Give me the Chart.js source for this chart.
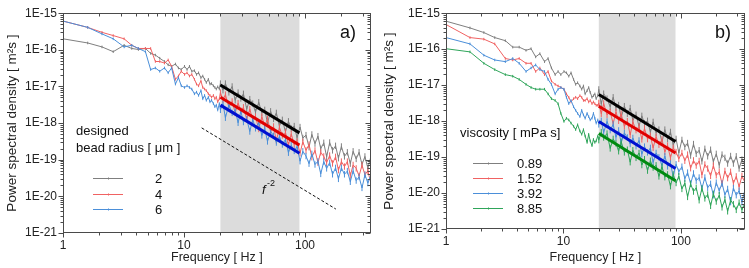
<!DOCTYPE html>
<html><head><meta charset="utf-8">
<script src="https://cdn.jsdelivr.net/npm/chart.js@4.4.0/dist/chart.umd.min.js"></script>
<style>
html,body{margin:0;padding:0;background:#fff;}
#wrap{position:relative;width:749px;height:268px;overflow:hidden;}
canvas{position:absolute;top:0;}
#ca{left:0;} #cb{left:375px;}
</style></head><body>
<div id="wrap"><canvas id="ca" width="375" height="268"></canvas><canvas id="cb" width="374" height="268"></canvas></div>
<script>
// ---------------- data ----------------
const freqHz = [1, 1.6, 2.1, 2.6, 3.2, 3.7, 4.2, 4.8, 5.3, 5.8, 6.3, 6.9, 7.4, 7.9, 8.5, 9.0, 9.5, 10.1, 10.6, 11.1, 11.6, 12.2, 12.7, 13.2, 13.8, 14.3, 14.8, 15.3, 15.9, 16.4, 16.9, 17.5, 18.0, 18.5, 19.0, 19.6,
  20, 21, 22, 23.5, 25, 26.5, 28, 29.5, 31, 33, 35, 37, 39, 41.5, 44, 46.5, 49, 52, 55, 58, 61.5, 65, 69, 73, 77, 81.5, 86, 91, 96, 102, 108, 114, 121, 128, 135, 143, 151, 160, 169, 179, 189, 200, 212, 224, 237, 250, 265, 280, 296, 313, 331, 350];

// panel a) designed bead radius [um]
const radiusLabels = ['2', '4', '6'];
const psdA_2um = [2.0e-16, 1.54e-16, 1.2e-16, 8.9e-17, 1.33e-16, 1.09e-16, 1.02e-16, 1.09e-16, 8.0e-17, 7.2e-17, 5.9e-17, 4.8e-17, 3.9e-17, 3.55e-17, 4.1e-17, 3.2e-17, 2.9e-17, 3.55e-17, 2.9e-17, 3.55e-17, 2.6e-17, 2.7e-17, 2.13e-17, 2.36e-17, 1.74e-17, 1.93e-17, 1.57e-17, 1.28e-17, 1.57e-17, 1.16e-17, 1.2e-17, 1.04e-17, 9.4e-18, 8.5e-18, 9.8e-18, 8.5e-18,
  1.2e-17, 7.9e-18, 1.2e-17, 6.9e-18, 1.0e-17, 4.2e-18, 6.8e-18, 4.7e-18, 6.3e-18, 2.4e-18, 4.5e-18, 3.4e-18, 2.0e-18, 3.7e-18, 1.9e-18, 2.3e-18, 1.0e-18, 2.1e-18, 1.3e-18, 1.9e-18, 8.3e-19, 1.23e-18, 5.8e-19, 1.12e-18, 7.1e-19, 8.3e-19, 4.0e-19, 7.8e-19, 3.9e-19, 4.7e-19, 2.2e-19, 4.9e-19, 2.75e-19, 4.4e-19, 2.0e-19, 2.9e-19, 1.2e-19, 2.95e-19, 1.8e-19, 2.4e-19, 1.1e-19, 2.3e-19, 1.23e-19, 1.6e-19, 7.8e-20, 1.7e-19, 1.05e-19, 1.6e-19, 7.4e-20, 1.23e-19, 5.9e-20, 1.2e-19];
const psdA_4um = [6.1e-16, 4.1e-16, 3.0e-16, 2.45e-16, 2.0e-16, 1.33e-16, 1.09e-16, 1.09e-16, 1.09e-16, 4.8e-17, 4.8e-17, 4.35e-17, 5.3e-17, 3.55e-17, 1.57e-17, 1.93e-17, 2.6e-17, 2.13e-17, 2.36e-17, 1.93e-17, 2.13e-17, 1.57e-17, 1.16e-17, 1.04e-17, 1.42e-17, 9.4e-18, 8.5e-18, 7.7e-18, 6.3e-18, 5.7e-18, 5.1e-18, 5.7e-18, 4.6e-18, 5.1e-18, 3.8e-18, 4.6e-18,
  6.8e-18, 4.3e-18, 6.0e-18, 2.7e-18, 3.9e-18, 1.9e-18, 3.5e-18, 2.2e-18, 2.7e-18, 1.26e-18, 2.4e-18, 1.23e-18, 1.5e-18, 6.9e-19, 1.5e-18, 8.3e-19, 1.3e-18, 5.8e-19, 8.1e-19, 3.3e-19, 7.6e-19, 4.6e-19, 5.6e-19, 2.5e-19, 5.1e-19, 2.6e-19, 3.16e-19, 1.5e-19, 3.1e-19, 1.8e-19, 2.6e-19, 1.17e-19, 1.8e-19, 8.3e-20, 1.6e-19, 1.23e-19, 8.3e-20, 1.3e-19, 7.9e-20, 1.2e-19, 5.2e-20, 8.9e-20, 6.5e-20, 8.9e-20, 3.7e-20, 7.2e-20, 5.8e-20, 3.6e-20, 7.1e-20, 3.9e-20, 5.0e-20, 2.3e-20];
const psdA_6um = [6.1e-16, 4.1e-16, 2.72e-16, 2.0e-16, 1.2e-16, 1.33e-16, 1.09e-16, 8.9e-17, 2.9e-17, 3.2e-17, 2.6e-17, 3.2e-17, 2.36e-17, 3.2e-17, 1.16e-17, 1.74e-17, 1.04e-17, 9.4e-18, 1.04e-17, 9.4e-18, 8.5e-18, 6.3e-18, 7.0e-18, 5.7e-18, 7.7e-18, 4.6e-18, 5.7e-18, 4.2e-18, 5.1e-18, 3.8e-18, 4.2e-18, 3.4e-18, 2.8e-18, 3.1e-18, 2.27e-18, 3.4e-18,
  2.3e-18, 3.4e-18, 1.4e-18, 3.16e-18, 1.9e-18, 2.3e-18, 1.02e-18, 2.1e-18, 1.07e-18, 1.3e-18, 5.9e-19, 1.26e-18, 7.2e-19, 1.05e-18, 4.6e-19, 7.1e-19, 3.16e-19, 6.0e-19, 4.5e-19, 2.95e-19, 4.3e-19, 2.6e-19, 3.6e-19, 1.55e-19, 2.5e-19, 1.74e-19, 2.3e-19, 9.1e-20, 1.7e-19, 1.26e-19, 7.8e-20, 1.45e-19, 7.4e-20, 9.1e-20, 4.1e-20, 8.9e-20, 5.8e-20, 8.3e-20, 4.0e-20, 6.0e-20, 3.0e-20, 6.0e-20, 4.0e-20, 4.9e-20, 2.5e-20, 5.0e-20, 2.7e-20, 3.4e-20, 1.7e-20, 3.9e-20, 2.3e-20, 3.9e-20];

// panel b) viscosity [mPa s]
const viscosityLabels = ['0.89', '1.52', '3.92', '8.85'];
const psdB_089 = [6.0e-16, 3.9e-16, 2.9e-16, 2.1e-16, 1.72e-16, 1.14e-16, 1.14e-16, 9.3e-17, 1.03e-16, 6.1e-17, 7.5e-17, 4.5e-17, 5.5e-17, 3.0e-17, 1.96e-17, 2.4e-17, 1.96e-17, 2.4e-17, 2.2e-17, 1.77e-17, 2.2e-17, 1.44e-17, 1.05e-17, 1.17e-17, 9.5e-18, 7.7e-18, 9.5e-18, 5.7e-18, 7.0e-18, 8.6e-18, 6.3e-18, 4.6e-18, 5.1e-18, 5.7e-18, 4.2e-18, 5.1e-18,
  7.6e-18, 3.0e-18, 5.8e-18, 4.2e-18, 2.5e-18, 4.6e-18, 2.3e-18, 2.8e-18, 1.26e-18, 2.6e-18, 1.6e-18, 2.3e-18, 1.05e-18, 1.5e-18, 7.2e-19, 1.4e-18, 8.7e-19, 1.02e-18, 4.9e-19, 9.5e-19, 4.7e-19, 5.8e-19, 2.6e-19, 5.8e-19, 3.2e-19, 5.0e-19, 2.2e-19, 3.2e-19, 1.3e-19, 3.0e-19, 1.9e-19, 2.45e-19, 1.1e-19, 2.3e-19, 1.23e-19, 1.55e-19, 7.6e-20, 1.7e-19, 1.05e-19, 1.6e-19, 7.4e-20, 1.23e-19, 5.9e-20, 1.17e-19, 9.5e-20, 6.6e-20, 1.07e-19, 6.6e-20, 1.05e-19, 4.8e-20, 8.5e-20, 6.5e-20];
const psdB_152 = [4.85e-16, 2.1e-16, 1.9e-16, 1.4e-16, 5.5e-17, 5.0e-17, 5.5e-17, 4.05e-17, 4.05e-17, 2.4e-17, 3.0e-17, 1.96e-17, 2.4e-17, 1.3e-17, 1.05e-17, 9.5e-18, 8.6e-18, 7.7e-18, 5.7e-18, 4.6e-18, 3.4e-18, 4.2e-18, 4.6e-18, 4.2e-18, 5.1e-18, 4.6e-18, 3.75e-18, 3.75e-18, 4.2e-18, 3.4e-18, 3.75e-18, 3.05e-18, 3.4e-18, 3.05e-18, 2.75e-18, 2.75e-18,
  3.2e-18, 1.6e-18, 3.1e-18, 1.5e-18, 1.8e-18, 8.5e-19, 1.8e-18, 1.02e-18, 1.6e-18, 7.1e-19, 1.0e-18, 4.1e-19, 9.5e-19, 5.6e-19, 7.1e-19, 3.1e-19, 6.3e-19, 3.16e-19, 3.9e-19, 1.8e-19, 3.7e-19, 2.2e-19, 3.1e-19, 1.38e-19, 2.1e-19, 9.5e-20, 1.8e-19, 1.38e-19, 8.9e-20, 1.3e-19, 7.9e-20, 1.17e-19, 4.9e-20, 8.1e-20, 5.8e-20, 7.8e-20, 3.16e-20, 6.2e-20, 4.8e-20, 3.0e-20, 5.8e-20, 3.1e-20, 3.9e-20, 1.8e-20, 4.1e-20, 2.6e-20, 3.9e-20, 1.86e-20, 2.9e-20, 1.48e-20, 3.0e-20, 2.0e-20];
const psdB_392 = [2.1e-16, 1.4e-16, 6.8e-17, 5.0e-17, 4.5e-17, 5.5e-17, 4.05e-17, 2.4e-17, 3.0e-17, 3.65e-17, 2.7e-17, 2.4e-17, 1.44e-17, 1.05e-17, 5.7e-18, 7.7e-18, 8.6e-18, 7.7e-18, 4.6e-18, 3.05e-18, 3.75e-18, 2.5e-18, 2.0e-18, 1.64e-18, 1.33e-18, 2.0e-18, 1.48e-18, 1.2e-18, 1.64e-18, 1.33e-18, 1.08e-18, 1.2e-18, 1.64e-18, 1.2e-18, 8.8e-19, 1.08e-18,
  8.1e-19, 1.02e-18, 4.8e-19, 9.8e-19, 5.6e-19, 8.1e-19, 3.55e-19, 5.5e-19, 2.5e-19, 4.7e-19, 3.5e-19, 2.3e-19, 3.4e-19, 2.0e-19, 2.9e-19, 1.2e-19, 1.95e-19, 1.35e-19, 1.8e-19, 7.1e-20, 1.3e-19, 9.8e-20, 5.8e-20, 1.07e-19, 5.5e-20, 6.6e-20, 2.9e-20, 6.3e-20, 3.9e-20, 5.4e-20, 2.5e-20, 3.7e-20, 1.8e-20, 3.5e-20, 2.2e-20, 2.7e-20, 1.35e-20, 2.7e-20, 1.4e-20, 1.8e-20, 8.7e-21, 1.95e-20, 1.15e-20, 1.86e-20, 8.9e-21, 1.3e-20, 5.6e-21, 1.38e-20, 8.7e-21, 1.17e-20, 5.5e-21, 1.2e-20];
const psdB_885 = [1.03e-16, 8.4e-17, 4.05e-17, 2.7e-17, 1.96e-17, 1.77e-17, 1.44e-17, 1.05e-17, 8.6e-18, 7.7e-18, 7.7e-18, 7.7e-18, 5.7e-18, 4.2e-18, 3.75e-18, 3.05e-18, 1.64e-18, 9.8e-19, 1.2e-18, 1.08e-18, 8.8e-19, 7.2e-19, 5.8e-19, 7.9e-19, 5.3e-19, 4.3e-19, 5.8e-19, 3.85e-19, 2.55e-19, 4.3e-19, 2.8e-19, 2.07e-19, 3.1e-19, 2.55e-19, 2.8e-19, 3.85e-19,
  2.95e-19, 4.9e-19, 3.5e-19, 4.5e-19, 1.74e-19, 3.2e-19, 2.4e-19, 1.45e-19, 2.7e-19, 1.35e-19, 1.6e-19, 7.2e-20, 1.55e-19, 9.5e-20, 1.3e-19, 6.0e-20, 8.7e-20, 4.2e-20, 7.9e-20, 5.1e-20, 5.9e-20, 2.9e-20, 5.4e-20, 2.75e-20, 3.3e-20, 1.55e-20, 3.3e-20, 1.9e-20, 2.95e-20, 1.3e-20, 1.9e-20, 7.8e-21, 1.8e-20, 1.1e-20, 1.4e-20, 6.3e-21, 1.35e-20, 7.1e-21, 9.1e-21, 4.4e-21, 9.5e-21, 5.8e-21, 8.7e-21, 4.0e-21, 6.6e-21, 3.1e-21, 6.3e-21, 4.9e-21, 3.4e-21, 5.4e-21, 3.4e-21, 5.2e-21];

// f^-2 fits over the shaded fitting window
const bandHz = [20, 90];
const fitHz = [20, 90];
const fitA_2um = [1.1e-17, 5.4e-19];
const fitA_4um = [5.1e-18, 2.5e-19];
const fitA_6um = [3.1e-18, 1.5e-19];
const fitB_089 = [5.5e-18, 2.7e-19];
const fitB_152 = [2.6e-18, 1.3e-19];
const fitB_392 = [9.8e-19, 4.8e-20];
const fitB_885 = [4.5e-19, 2.2e-20];
// guide line ~ f^-2 (panel a)
const guideHz = [14, 180];
const guidePSD = [7.4e-19, 4.5e-21];

// ticks
const xTickValues = [1, 2, 3, 4, 5, 6, 7, 8, 9, 10, 20, 30, 40, 50, 60, 70, 80, 90, 100, 200, 300];
const xLabelValues = [1, 10, 100];
const xTickLabels = ['1', '10', '100'];
const yLabelValues = [1e-21, 1e-20, 1e-19, 1e-18, 1e-17, 1e-16, 1e-15];
const yTickLabels = ['1E-21', '1E-20', '1E-19', '1E-18', '1E-17', '1E-16', '1E-15'];
const minorMultipliers = [2, 3, 4, 5, 6, 7, 8, 9];

// ---------------- rendering ----------------
const FONT = '"Liberation Sans", Arial, Helvetica, sans-serif';
Chart.defaults.font.family = FONT;
Chart.defaults.color = '#222';

const C = { gray: '#7f7f7f', red: '#f06262', blue: '#4b8fd9', green: '#2fa55a',
            kFit: '#000000', rFit: '#e00000', bFit: '#0010d0', gFit: '#008a10' };

const yTickValues = [];
yLabelValues.forEach((v, i) => { yTickValues.push(v); if (i < yLabelValues.length - 1) minorMultipliers.forEach(m => yTickValues.push(v * m)); });

function near(a, b) { return Math.abs(a / b - 1) < 1e-6; }
function labelFor(v, vals, labs) { const i = vals.findIndex(t => near(v, t)); return i >= 0 ? labs[i] : ''; }

function series(label, ys, color, order) {
  return { label, data: freqHz.map((f, i) => ({ x: f, y: ys[i] })), borderColor: color, backgroundColor: color,
    borderWidth: 1, pointStyle: 'line', rotation: 90,
    pointRadius: c => (c.raw && c.raw.x >= 20 ? 3.2 : 1.3), pointBorderWidth: 1, pointHoverRadius: 0,
    tension: 0, order };
}
function fit(ys, color) {
  return { label: 'fit', data: fitHz.map((f, i) => ({ x: f, y: ys[i] })), borderColor: color, borderWidth: 3,
    pointRadius: 0, order: 0 };
}

function decoPlugin(d) {
  return {
    id: 'deco',
    beforeDatasetsDraw(chart) {
      const { ctx, chartArea: a, scales: { x } } = chart;
      const x0 = x.getPixelForValue(bandHz[0]), x1 = x.getPixelForValue(bandHz[1]);
      ctx.save(); ctx.fillStyle = '#dcdcdc'; ctx.fillRect(x0, a.top, x1 - x0, a.bottom - a.top); ctx.restore();
    },
    afterDatasetsDraw(chart) {
      const { ctx, chartArea: a, scales: { x, y } } = chart;
      ctx.save();
      ctx.strokeStyle = '#4a4a4a'; ctx.lineWidth = 1;
      const L = Math.round(a.left) + 0.5, R = Math.round(a.right) - 0.5, T = Math.round(a.top) + 0.5, B = Math.round(a.bottom) - 0.5;
      ctx.strokeRect(L, T, R - L, B - T);
      ctx.beginPath();
      xTickValues.forEach(v => {
        const px = Math.round(x.getPixelForValue(v)) + 0.5;
        if (px < L - 1 || px > R + 1) return;
        const len = xLabelValues.some(t => near(v, t)) ? 5 : 3;
        ctx.moveTo(px, B); ctx.lineTo(px, B + len);
        ctx.moveTo(px, T); ctx.lineTo(px, T + len);
      });
      yTickValues.forEach(v => {
        const py = Math.round(y.getPixelForValue(v)) + 0.5;
        const len = yLabelValues.some(t => near(v, t)) ? 5 : 3;
        ctx.moveTo(L - len, py); ctx.lineTo(L, py);
        ctx.moveTo(R - len, py); ctx.lineTo(R, py);
      });
      ctx.stroke();
      // panel letter
      ctx.fillStyle = '#111'; ctx.textBaseline = 'middle'; ctx.textAlign = 'center';
      ctx.font = '18px ' + FONT; ctx.fillText(d.letter, 348, 33);
      // legend
      ctx.textAlign = 'left'; ctx.font = '13px ' + FONT;
      d.legendTitle.forEach(t => ctx.fillText(t.text, t.x, t.y));
      d.items.forEach(it => {
        ctx.strokeStyle = it.color; ctx.lineWidth = 1;
        ctx.beginPath(); ctx.moveTo(d.lx0, it.y + 0.5); ctx.lineTo(d.lx1, it.y + 0.5);
        const xm = Math.round((d.lx0 + d.lx1) / 2) + 0.5;
        ctx.moveTo(xm, it.y - 0.5); ctx.lineTo(xm, it.y + 1.5); ctx.stroke();
        ctx.fillStyle = '#111'; ctx.fillText(it.label, d.labelX, it.y + 1);
      });
      if (d.fLabel) {
        ctx.font = 'italic 13px ' + FONT; ctx.fillText('f', d.fLabel.x, d.fLabel.y);
        ctx.font = '9px ' + FONT; ctx.fillText('-2', d.fLabel.x + 5, d.fLabel.y - 6);
      }
      ctx.restore();
    }
  };
}

function makeChart(id, datasets, lay, deco) {
  return new Chart(document.getElementById(id), {
    type: 'line',
    data: { datasets },
    options: {
      responsive: false, animation: false, devicePixelRatio: 1, events: [],
      layout: { padding: { left: 0, top: 7, right: lay.padRight, bottom: 0 } },
      plugins: { legend: { display: false }, tooltip: { enabled: false } },
      scales: {
        x: { type: 'logarithmic', min: 1, max: 350,
          afterBuildTicks: s => { s.ticks = xTickValues.map(v => ({ value: v })); },
          afterFit: s => { s.height = lay.xH; },
          ticks: { autoSkip: false, maxRotation: 0, minRotation: 0, padding: 5, font: { size: 12 }, color: '#222',
                   callback: v => labelFor(v, xLabelValues, xTickLabels) },
          grid: { display: false, drawTicks: false }, border: { display: false },
          title: { display: true, text: 'Frequency [ Hz ]', font: { size: 12.5 }, color: '#222', padding: { top: 0, bottom: 3 } } },
        y: { type: 'logarithmic', min: 1e-21, max: 1e-15,
          afterBuildTicks: s => { s.ticks = yTickValues.map(v => ({ value: v })); },
          afterFit: s => { s.width = lay.yW; },
          ticks: { autoSkip: false, padding: 6, font: { size: 12 }, color: '#222',
                   callback: v => labelFor(v, yLabelValues, yTickLabels) },
          grid: { display: false, drawTicks: false }, border: { display: false },
          title: { display: true, text: 'Power spectral density [ m²s ]', font: { size: 13.5 }, color: '#222', padding: { top: lay.yTitlePad, bottom: 0 } } }
      }
    },
    plugins: [decoPlugin(deco)]
  });
}

makeChart('ca', [
  series(radiusLabels[0], psdA_2um, C.gray, 4),
  series(radiusLabels[1], psdA_4um, C.red, 3),
  series(radiusLabels[2], psdA_6um, C.blue, 2),
  fit(fitA_2um, C.kFit), fit(fitA_4um, C.rFit), fit(fitA_6um, C.bFit),
  { label: 'f-2', data: guideHz.map((f, i) => ({ x: f, y: guidePSD[i] })), borderColor: '#111', borderWidth: 1, borderDash: [3, 2], pointRadius: 0, order: 1 }
], { padRight: 4, xH: 35, yW: 63, yTitlePad: 4 }, {
  letter: 'a)',
  legendTitle: [{ text: 'designed', x: 76, y: 131 }, { text: 'bead radius [ μm ]', x: 76, y: 148 }],
  lx0: 93, lx1: 123, labelX: 155,
  items: [{ color: C.gray, label: radiusLabels[0], y: 178 }, { color: C.red, label: radiusLabels[1], y: 194 }, { color: C.blue, label: radiusLabels[2], y: 209 }],
  fLabel: { x: 262, y: 190 }
});

makeChart('cb', [
  series(viscosityLabels[0], psdB_089, C.gray, 5),
  series(viscosityLabels[1], psdB_152, C.red, 4),
  series(viscosityLabels[2], psdB_392, C.blue, 3),
  series(viscosityLabels[3], psdB_885, C.green, 2),
  fit(fitB_089, C.kFit), fit(fitB_152, C.rFit), fit(fitB_392, C.bFit), fit(fitB_885, C.gFit)
], { padRight: 2, xH: 39, yW: 71, yTitlePad: 6 }, {
  letter: 'b)',
  legendTitle: [{ text: 'viscosity [ mPa s]', x: 85, y: 133 }],
  lx0: 98, lx1: 128, labelX: 142,
  items: [{ color: C.gray, label: viscosityLabels[0], y: 163 }, { color: C.red, label: viscosityLabels[1], y: 178 }, { color: C.blue, label: viscosityLabels[2], y: 193 }, { color: C.green, label: viscosityLabels[3], y: 208 }],
  fLabel: null
});
</script>
</body></html>
